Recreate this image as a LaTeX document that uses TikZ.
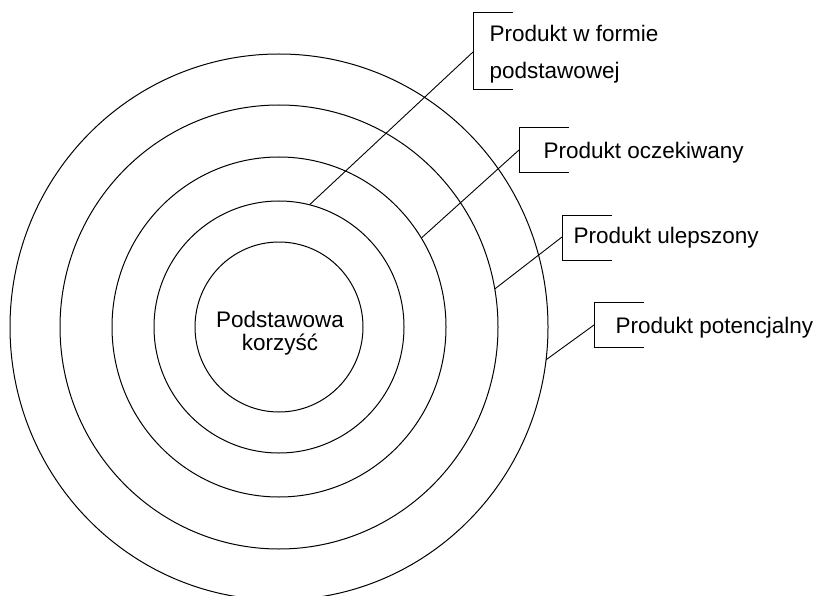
\documentclass[tikz,border=0pt]{standalone}
\usepackage{fontspec}
\setmainfont{Liberation Sans}
\usetikzlibrary{shapes.geometric}
\begin{document}
\begin{tikzpicture}[x=1pt,y=-1pt,line width=1pt,
  ring/.style={draw,ellipse,inner sep=0pt,outer sep=0pt},
  lbl/.style={anchor=base west,inner sep=0pt,font=\fontsize{22.5}{27}\selectfont},
  bracketline/.style={line width=1pt},
  conn/.style={line width=0.9pt}]
\useasboundingbox (0,0) rectangle (816,596);
% rings
\node[ring,minimum width=538pt,minimum height=546pt] (r4) at (279,327) {};
\node[ring,minimum width=438pt,minimum height=444pt] (r3) at (279,327) {};
\node[ring,minimum width=334pt,minimum height=340pt] (r2) at (279,327) {};
\node[ring,minimum width=250pt,minimum height=252pt] (r1) at (279,327) {};
\node[ring,minimum width=168pt,minimum height=170pt] (core) at (279,327) {};
\node[align=center,inner sep=0pt,font=\fontsize{22.5}{23.5}\selectfont] (coretxt) at (280,333) {Podstawowa\\korzyść};
% label 1
\draw[bracketline] (513,13) -| (473,90) -- (513,90);
\coordinate (p1) at (473,52);
\node[lbl] (t1a) at (489,41.7) {Produkt w formie};
\node[lbl] (t1b) at (489,79) {podstawowej};
\draw[conn] (p1) -- (r1.76.7);
% label 2
\draw[bracketline] (569,128) -| (519,173) -- (569,173);
\coordinate (p2) at (519,150);
\node[lbl] (t2) at (543,158.3) {Produkt oczekiwany};
\draw[conn] (p2) -- (r2.32.6);
% label 3
\draw[bracketline] (612,215) -| (562,260) -- (612,260);
\coordinate (p3) at (562,237);
\node[lbl] (t3) at (573,243.3) {Produkt ulepszony};
\draw[conn] (p3) -- (r3.10);
% label 4
\draw[bracketline] (644,302) -| (594,347) -- (644,347);
\coordinate (p4) at (594,325);
\node[lbl] (t4) at (615,333.3) {Produkt potencjalny};
\draw[conn] (p4) -- (r4.-7.2);
\end{tikzpicture}
\end{document}
